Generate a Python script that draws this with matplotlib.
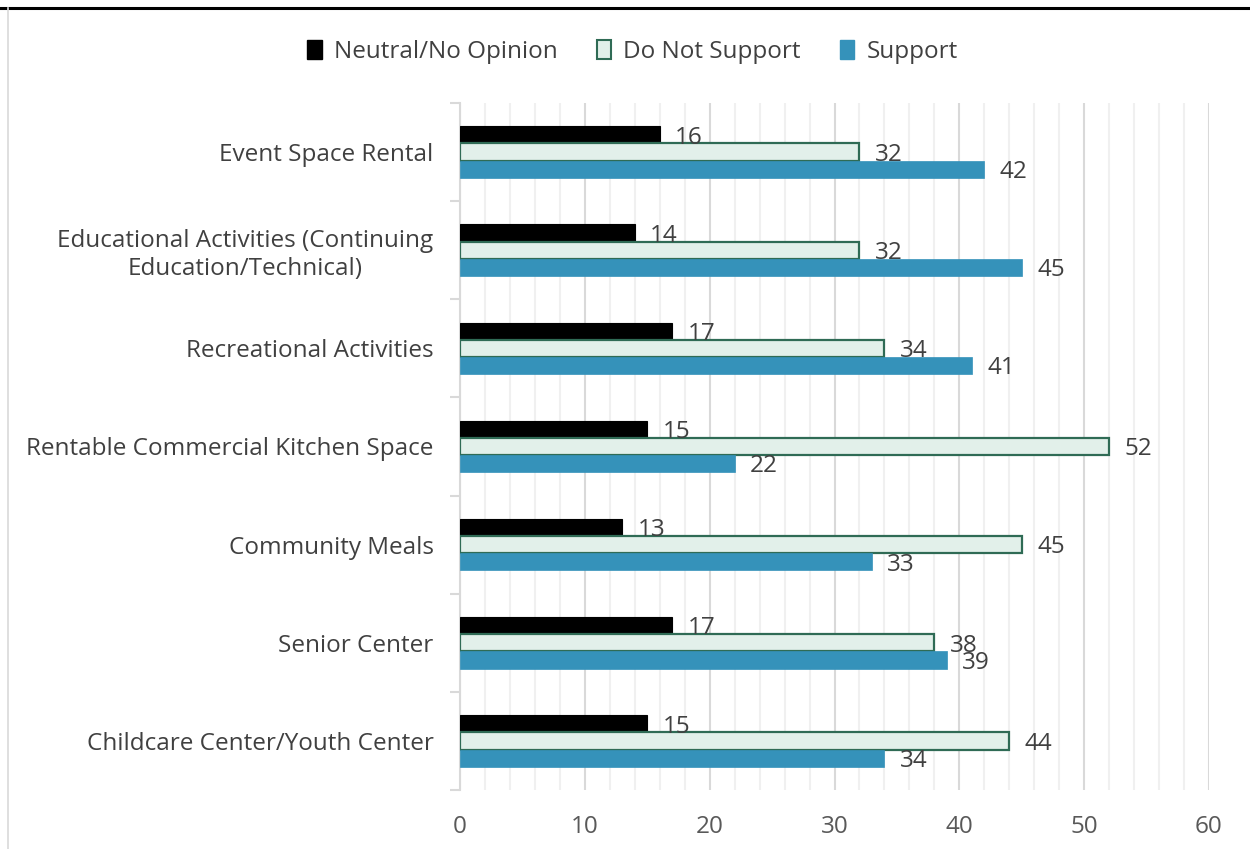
import matplotlib.pyplot as plt
import numpy as np
from matplotlib.lines import Line2D
from matplotlib.patches import Patch

#--- Data (top to bottom as shown)
categories = [
    'Event Space Rental',
    'Educational Activities (Continuing\nEducation/Technical)',
    'Recreational Activities',
    'Rentable Commercial Kitchen Space',
    'Community Meals',
    'Senior Center',
    'Childcare Center/Youth Center',
]
neutral = [16, 14, 17, 15, 13, 17, 15]
not_support = [32, 32, 34, 52, 45, 38, 44]
support = [42, 45, 41, 22, 33, 39, 34]
x_ticks = [0, 10, 20, 30, 40, 50, 60]

plt.rcParams['font.family'] = ['Open Sans', 'DejaVu Sans']
text_col = '#404040'
fs = 17.5

fig = plt.figure(figsize=(12.5, 8.49), dpi=100)
ax = fig.add_axes([0.368, 0.0695, 0.5992, 0.8092])

n = len(categories)
y = np.arange(n)[::-1].astype(float)
h = 0.175

bars_n = ax.barh(y + h, neutral, height=h, color='#000000', edgecolor='#000000', linewidth=0.8, zorder=3)
bars_d = ax.barh(y, not_support, height=h, color='#E2F0EA', edgecolor='#2F6B55', linewidth=1.6, zorder=3)
bars_s = ax.barh(y - h, support, height=h, color='#3592BA', edgecolor='#3592BA', linewidth=0.5, zorder=3)

for bars, vals in [(bars_n, neutral), (bars_d, not_support), (bars_s, support)]:
    for b, v in zip(bars, vals):
        ax.annotate(str(v), (v, b.get_y() + b.get_height() / 2), xytext=(11, -2),
                    textcoords='offset points', ha='left', va='center',
                    fontsize=fs, color=text_col, zorder=4)

ax.set_xlim(0, 60)
ax.set_ylim(-0.5, n - 0.5)
ax.set_xticks(x_ticks)
ax.set_xticks(np.arange(0, 61, 2), minor=True)
ax.grid(axis='x', which='major', color='#D9D9D9', linewidth=1.5, zorder=0)
ax.grid(axis='x', which='minor', color='#F0F0F0', linewidth=1.5, zorder=0)
ax.tick_params(axis='x', which='both', length=0, pad=18, labelsize=fs, labelcolor='#595959')

ax.set_yticks(y)
ax.set_yticklabels(categories, multialignment='center')
ax.set_yticks(np.arange(-0.5, n, 1), minor=True)
ax.tick_params(axis='y', which='major', length=0, pad=19, labelsize=fs, labelcolor=text_col)
ax.tick_params(axis='y', which='minor', length=7, width=1.5, color='#D9D9D9')

for s in ['top', 'right', 'bottom']:
    ax.spines[s].set_visible(False)
ax.spines['left'].set_color('#D9D9D9')
ax.spines['left'].set_linewidth(1.5)

handles = [
    Patch(facecolor='#000000', edgecolor='#000000', label='Neutral/No Opinion'),
    Patch(facecolor='#E2F0EA', edgecolor='#2F6B55', linewidth=1.5, label='Do Not Support'),
    Patch(facecolor='#3592BA', edgecolor='#3592BA', label='Support'),
]
fig.legend(handles=handles, loc='center', bbox_to_anchor=(0.506, 0.939), ncol=3,
           frameon=False, fontsize=fs, labelcolor=text_col, handlelength=0.6,
           handleheight=0.8, handletextpad=0.5, columnspacing=1.6)

# chart frame
fig.add_artist(Line2D([0, 1], [0.991, 0.991], color='black', linewidth=2.2, transform=fig.transFigure))
fig.add_artist(Line2D([0.0065, 0.0065], [0, 0.991], color='#D9D9D9', linewidth=1.2, transform=fig.transFigure))

fig.savefig('out.png', dpi=100)
plt.close()
